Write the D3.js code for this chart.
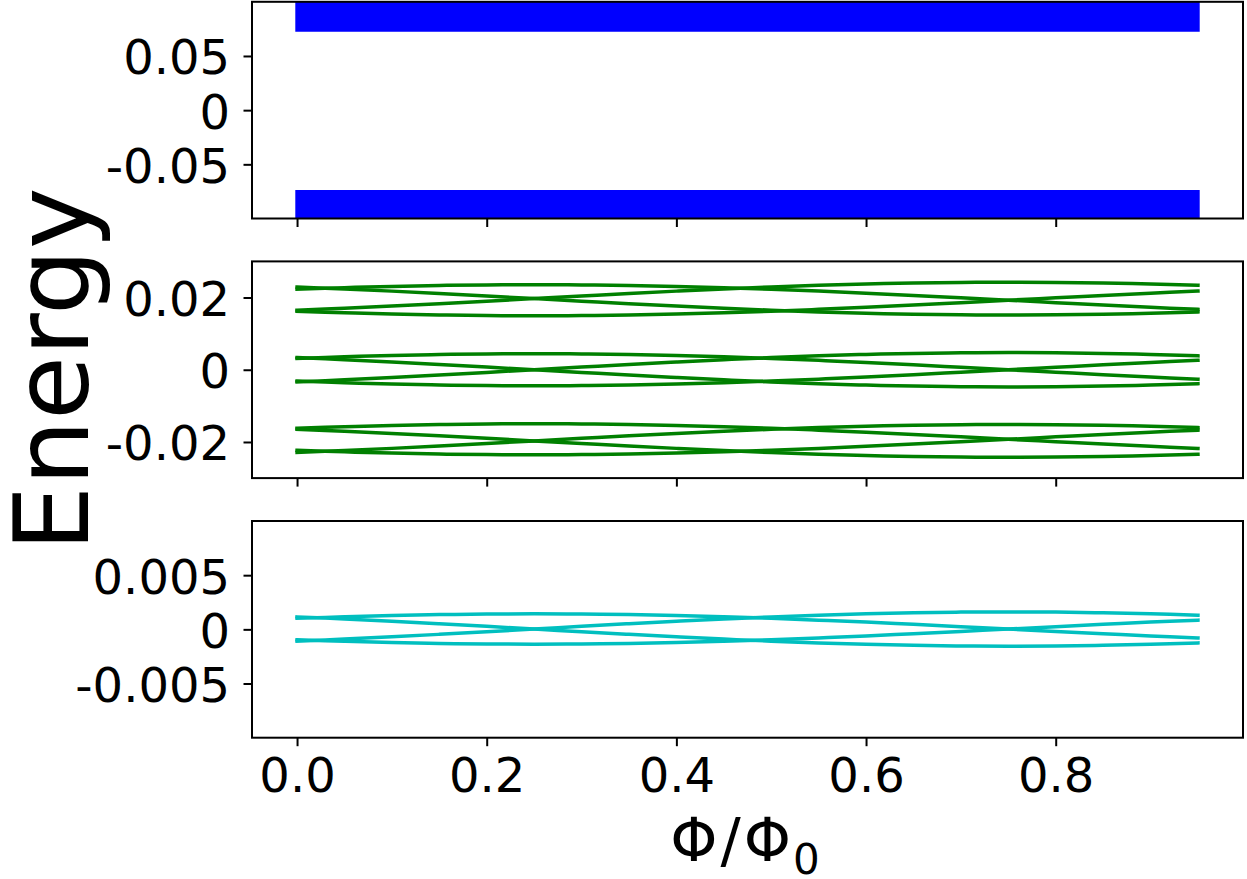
<!DOCTYPE html>
<html><head><meta charset="utf-8">
<script src="https://cdn.jsdelivr.net/npm/d3@7"></script>
<style>html,body{margin:0;padding:0;background:#fff}</style>
</head><body>
<svg id="chart" width="1247" height="879"></svg>
<script>
// ---------- data ----------
const phi = [0,0.05,0.10,0.15,0.20,0.25,0.30,0.35,0.40,0.45,0.50,0.55,0.60,0.65,0.70,0.75,0.80,0.85,0.90,0.95];
const xTicks = [0,0.2,0.4,0.6,0.8];
const xTickLabels = ["0.0","0.2","0.4","0.6","0.8"];

// top panel: bulk bands (edges)
const bandPhi = [0,0.95];
const bandUpperLow  = [0.074,0.074];
const bandUpperHigh = [0.11,0.11];
const bandLowerHigh = [-0.0752,-0.0752];
const bandLowerLow  = [-0.11,-0.11];
const topTicks = [-0.05,0,0.05];
const topTickLabels = ["-0.05","0","0.05"];

// middle panel: green levels
const g1a = [0.02229,0.02273,0.02308,0.02334,0.02350,0.02355,0.02350,0.02334,0.02308,0.02273,0.02229,0.02178,0.02120,0.02058,0.01992,0.01925,0.01858,0.01792,0.01730,0.01672];
const g1b = [0.01621,0.01577,0.01542,0.01516,0.01500,0.01495,0.01500,0.01516,0.01542,0.01577,0.01621,0.01672,0.01730,0.01792,0.01858,0.01925,0.01992,0.02058,0.02120,0.02178];
const g1c = [0.02292,0.02237,0.02177,0.02111,0.02041,0.01970,0.01899,0.01829,0.01763,0.01703,0.01648,0.01602,0.01565,0.01537,0.01521,0.01515,0.01521,0.01537,0.01565,0.01602];
const g1d = [0.01648,0.01703,0.01763,0.01829,0.01899,0.01970,0.02041,0.02111,0.02177,0.02237,0.02292,0.02338,0.02375,0.02403,0.02419,0.02425,0.02419,0.02403,0.02375,0.02338];
const g2a = [0.00313,0.00358,0.00395,0.00421,0.00438,0.00443,0.00438,0.00421,0.00395,0.00358,0.00313,0.00260,0.00201,0.00137,0.00069,0,-0.00069,-0.00137,-0.00201,-0.00260];
const g2b = [-0.00313,-0.00358,-0.00395,-0.00421,-0.00438,-0.00443,-0.00438,-0.00421,-0.00395,-0.00358,-0.00313,-0.00260,-0.00201,-0.00137,-0.00069,0,0.00069,0.00137,0.00201,0.00260];
const g2c = [0.00337,0.00280,0.00216,0.00147,0.00074,0,-0.00074,-0.00147,-0.00216,-0.00280,-0.00337,-0.00385,-0.00424,-0.00453,-0.00470,-0.00476,-0.00470,-0.00453,-0.00424,-0.00385];
const g2d = [-0.00337,-0.00280,-0.00216,-0.00147,-0.00074,0,0.00074,0.00147,0.00216,0.00280,0.00337,0.00385,0.00424,0.00453,0.00470,0.00476,0.00470,0.00453,0.00424,0.00385];
const g3a = [-0.02229,-0.02273,-0.02308,-0.02334,-0.02350,-0.02355,-0.02350,-0.02334,-0.02308,-0.02273,-0.02229,-0.02178,-0.02120,-0.02058,-0.01992,-0.01925,-0.01858,-0.01792,-0.01730,-0.01672];
const g3b = [-0.01621,-0.01577,-0.01542,-0.01516,-0.01500,-0.01495,-0.01500,-0.01516,-0.01542,-0.01577,-0.01621,-0.01672,-0.01730,-0.01792,-0.01858,-0.01925,-0.01992,-0.02058,-0.02120,-0.02178];
const g3c = [-0.02292,-0.02237,-0.02177,-0.02111,-0.02041,-0.01970,-0.01899,-0.01829,-0.01763,-0.01703,-0.01648,-0.01602,-0.01565,-0.01537,-0.01521,-0.01515,-0.01521,-0.01537,-0.01565,-0.01602];
const g3d = [-0.01648,-0.01703,-0.01763,-0.01829,-0.01899,-0.01970,-0.02041,-0.02111,-0.02177,-0.02237,-0.02292,-0.02338,-0.02375,-0.02403,-0.02419,-0.02425,-0.02419,-0.02403,-0.02375,-0.02338];
const midTicks = [-0.02,0,0.02];
const midTickLabels = ["-0.02","0","0.02"];

// bottom panel: cyan levels
const c1 = [0.00102,0.00116,0.00128,0.00136,0.00141,0.00143,0.00141,0.00136,0.00128,0.00116,0.00102,0.00085,0.00067,0.00046,0.00025,0.00003,-0.00019,-0.00040,-0.00061,-0.00079];
const c2 = [-0.00096,-0.00110,-0.00122,-0.00130,-0.00135,-0.00137,-0.00135,-0.00130,-0.00122,-0.00110,-0.00096,-0.00079,-0.00061,-0.00040,-0.00019,0.00003,0.00025,0.00046,0.00067,0.00085];
const c3 = [0.00115,0.00096,0.00075,0.00052,0.00028,0.00003,-0.00022,-0.00046,-0.00069,-0.00090,-0.00109,-0.00125,-0.00138,-0.00147,-0.00153,-0.00155,-0.00153,-0.00147,-0.00138,-0.00125];
const c4 = [-0.00109,-0.00090,-0.00069,-0.00046,-0.00022,0.00003,0.00028,0.00052,0.00075,0.00096,0.00115,0.00131,0.00144,0.00153,0.00159,0.00161,0.00159,0.00153,0.00144,0.00131];
const botTicks = [-0.005,0,0.005];
const botTickLabels = ["-0.005","0","0.005"];

// ---------- layout ----------
const svg = d3.select("#chart");
const L = 252, R = 1243;
const panelTop0 = 1.8, panelH = 216.7, panelStep = 259.6;
const FONT = "DejaVu Sans, sans-serif";

const x = d3.scaleLinear().domain([-0.0475, 0.9975]).range([L, R]);

const panels = [
  {dom:[-0.1,0.1], ticks:topTicks, labels:topTickLabels, color:"#0000ff", series:[]},
  {dom:[-0.03,0.03], ticks:midTicks, labels:midTickLabels, color:"#008000", series:[g1a,g1b,g1c,g1d,g2a,g2b,g2c,g2d,g3a,g3b,g3c,g3d]},
  {dom:[-0.01,0.01], ticks:botTicks, labels:botTickLabels, color:"#00bfbf", series:[c1,c2,c3,c4]}
];

panels.forEach((p, i) => {
  const top = panelTop0 + i*panelStep, bot = top + panelH;
  const y = d3.scaleLinear().domain(p.dom).range([bot, top]);
  const clipId = "clip"+i;
  svg.append("clipPath").attr("id", clipId).append("rect")
    .attr("x", L).attr("y", top).attr("width", R-L).attr("height", panelH);
  const g = svg.append("g").attr("clip-path", `url(#${clipId})`);

  if (i === 0) {
    const area = d3.area().x((d,k)=>x(bandPhi[k]));
    [[bandUpperLow, bandUpperHigh],[bandLowerLow, bandLowerHigh]].forEach(([lo,hi]) => {
      g.append("path")
        .attr("d", area.y0((d,k)=>y(lo[k])).y1((d,k)=>y(hi[k]))(bandPhi))
        .attr("fill", p.color).attr("stroke", p.color)
        .attr("stroke-width", 3.5).attr("stroke-linejoin","miter");
    });
  }
  const line = d3.line().x((d,k)=>x(phi[k])).y(d=>y(d)).curve(d3.curveCatmullRom.alpha(0.5));
  p.series.forEach(s => {
    g.append("path").attr("d", line(s)).attr("fill","none")
      .attr("stroke", p.color).attr("stroke-width", 3.5).attr("stroke-linecap","square");
  });

  // y axis
  const ya = svg.append("g").attr("transform", `translate(${L},0)`)
    .call(d3.axisLeft(y).tickValues(p.ticks).tickFormat((d,k)=>p.labels[k]).tickSize(8.5).tickPadding(13.5).tickSizeOuter(0));
  ya.select(".domain").remove();
  ya.selectAll("line").attr("stroke","#000").attr("stroke-width",2);
  ya.selectAll("text").attr("font-family",FONT).attr("font-size",48).attr("fill","#000").attr("dy","0.375em");

  // x axis
  const xa = svg.append("g").attr("transform", `translate(0,${bot})`)
    .call(d3.axisBottom(x).tickValues(xTicks).tickFormat((d,k)=> i===2 ? xTickLabels[k] : "").tickSize(8.5).tickPadding(11.9).tickSizeOuter(0));
  xa.select(".domain").remove();
  xa.selectAll("line").attr("stroke","#000").attr("stroke-width",2);
  xa.selectAll("text").attr("font-family",FONT).attr("font-size",48).attr("fill","#000");

  // spines
  svg.append("rect").attr("x",L).attr("y",top).attr("width",R-L).attr("height",panelH)
    .attr("fill","none").attr("stroke","#000").attr("stroke-width",2);
});

// axis labels
svg.append("text").attr("transform","translate(88,369.5) rotate(-90)")
  .attr("text-anchor","middle").attr("font-family",FONT).attr("font-size",104).attr("fill","#000")
  .text("Energy");
const xl = svg.append("text").attr("x",745).attr("y",861)
  .attr("text-anchor","middle").attr("font-family",FONT).attr("font-size",60).attr("fill","#000");
xl.append("tspan").text("Φ");
xl.append("tspan").attr("dx",3).text("/");
xl.append("tspan").attr("dx",3).text("Φ");
xl.append("tspan").attr("font-size",42).attr("dx",2).attr("dy",13).text("0");
</script>
</body></html>
